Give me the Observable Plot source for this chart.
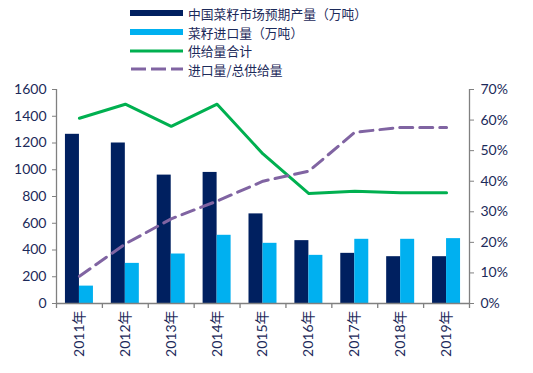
<!DOCTYPE html>
<html>
<head>
<meta charset="utf-8">
<script src="https://cdn.jsdelivr.net/npm/d3@7"></script>
<script src="https://cdn.jsdelivr.net/npm/@observablehq/plot@0.6"></script>
<style>
  body { margin: 0; background: #fff; font-family: Lato, "Noto Sans CJK SC", sans-serif; color: #1c2a5a; }
  #wrap { width: 533px; height: 373px; position: relative; overflow: hidden; }
  #legend { height: 80px; position: relative; }
  .row { position: absolute; left: 130px; height: 18.6px; display: flex; align-items: center; font-size: 12.8px; font-family: "Noto Sans CJK SC", sans-serif; color: #1c2a5a; white-space: nowrap; }
  .row svg { margin-right: 5px; flex: none; }
</style>
</head>
<body>
<div id="wrap">
  <div id="legend"></div>
  <div id="chart"></div>
</div>
<script>
const years = ["2011年","2012年","2013年","2014年","2015年","2016年","2017年","2018年","2019年"];
const production = [1265, 1200, 960, 980, 670, 470, 375, 350, 350];
const imports = [130, 300, 370, 510, 450, 360, 480, 480, 485];
const totalSupply = [1385, 1490, 1325, 1490, 1118, 822, 840, 828, 828];
const importShare = [0.089, 0.195, 0.277, 0.335, 0.40, 0.433, 0.56, 0.576, 0.576];
const leftTicks = [0, 200, 400, 600, 800, 1000, 1200, 1400, 1600];
const rightTicks = [0, 0.1, 0.2, 0.3, 0.4, 0.5, 0.6, 0.7];
const seriesNames = ["中国菜籽市场预期产量（万吨）", "菜籽进口量（万吨）", "供给量合计", "进口量/总供给量"];

const C_DARK = "#002060", C_LIGHT = "#00b0f0", C_GREEN = "#00b050", C_PURPLE = "#8064a2";
const GRAY = "#808080", TEXT = "#1c2a5a";

// legend
const legend = document.getElementById("legend");
const swatches = [
  `<svg width="53" height="8"><rect x="0" y="1" width="53" height="6" fill="${C_DARK}"/></svg>`,
  `<svg width="53" height="8"><rect x="0" y="1" width="53" height="6" fill="${C_LIGHT}"/></svg>`,
  `<svg width="53" height="8"><line x1="0" y1="4" x2="53" y2="4" stroke="${C_GREEN}" stroke-width="3"/></svg>`,
  `<svg width="53" height="8"><line x1="1" y1="4" x2="53" y2="4" stroke="${C_PURPLE}" stroke-width="3" stroke-dasharray="15,5"/></svg>`
];
const rowTops = [4.2, 22.8, 41.4, 60];
seriesNames.forEach((name, i) => {
  const d = document.createElement("div");
  d.className = "row";
  d.style.top = rowTops[i] + "px";
  d.innerHTML = swatches[i] + `<span>${name}</span>`;
  legend.appendChild(d);
});

const yMax = 1600, pMax = 0.7;
const toLeft = p => p * yMax / pMax;

const data = years.map((y, i) => ({year: y, production: production[i], imports: imports[i], total: totalSupply[i], share: toLeft(importShare[i])}));

const W = 533, mL = 56, mR = 64;
const bw = (W - mL - mR) / years.length;

const plot = Plot.plot({
  width: W,
  height: 293,
  marginTop: 9,
  marginBottom: 70,
  marginLeft: mL,
  marginRight: mR,
  style: {fontFamily: 'Lato, "Noto Sans CJK SC", sans-serif', color: TEXT, background: "transparent"},
  x: {type: "band", domain: years, padding: 0, round: false},
  y: {domain: [0, yMax]},
  marks: [
    Plot.barY(data, {x: "year", y: "production", fill: C_DARK, insetLeft: bw/2 - 14, insetRight: bw/2}),
    Plot.barY(data, {x: "year", y: "imports", fill: C_LIGHT, insetLeft: bw/2, insetRight: bw/2 - 14}),
    Plot.line(data, {x: "year", y: "total", stroke: C_GREEN, strokeWidth: 3}),
    Plot.line(data, {x: "year", y: "share", stroke: C_PURPLE, strokeWidth: 3, strokeDasharray: "13,7"}),
    Plot.ruleY([0], {stroke: GRAY, strokeWidth: 1.3}),
    Plot.ruleX([years[0]], {dx: -bw/2, y1: 0, y2: yMax, stroke: GRAY, strokeWidth: 1.3}),
    Plot.ruleX([years[years.length-1]], {dx: bw/2, y1: 0, y2: yMax, stroke: GRAY, strokeWidth: 1.3}),
    Plot.ruleX(years, {dx: -bw/2, y1: 0, y2: 0, insetBottom: -5, stroke: GRAY, strokeWidth: 1.3}),
    Plot.ruleX([years[years.length-1]], {dx: bw/2, y1: 0, y2: 0, insetBottom: -5, stroke: GRAY, strokeWidth: 1.3}),
    Plot.axisY({ticks: leftTicks, tickSize: 4, tickPadding: 6, fontSize: 14, label: null, stroke: GRAY, fill: TEXT, tickFormat: d => String(d)}),
    Plot.axisY({anchor: "right", ticks: rightTicks.map(toLeft), tickSize: 4, tickPadding: 7, fontSize: 14, label: null, stroke: GRAY, fill: TEXT, tickFormat: v => Math.round(v * pMax / yMax * 100) + "%"}),
    Plot.axisX({tickSize: 0, tickRotate: -90, tickPadding: 7, fontSize: 14, label: null, fill: TEXT})
  ]
});
document.getElementById("chart").appendChild(plot);
</script>
</body>
</html>
